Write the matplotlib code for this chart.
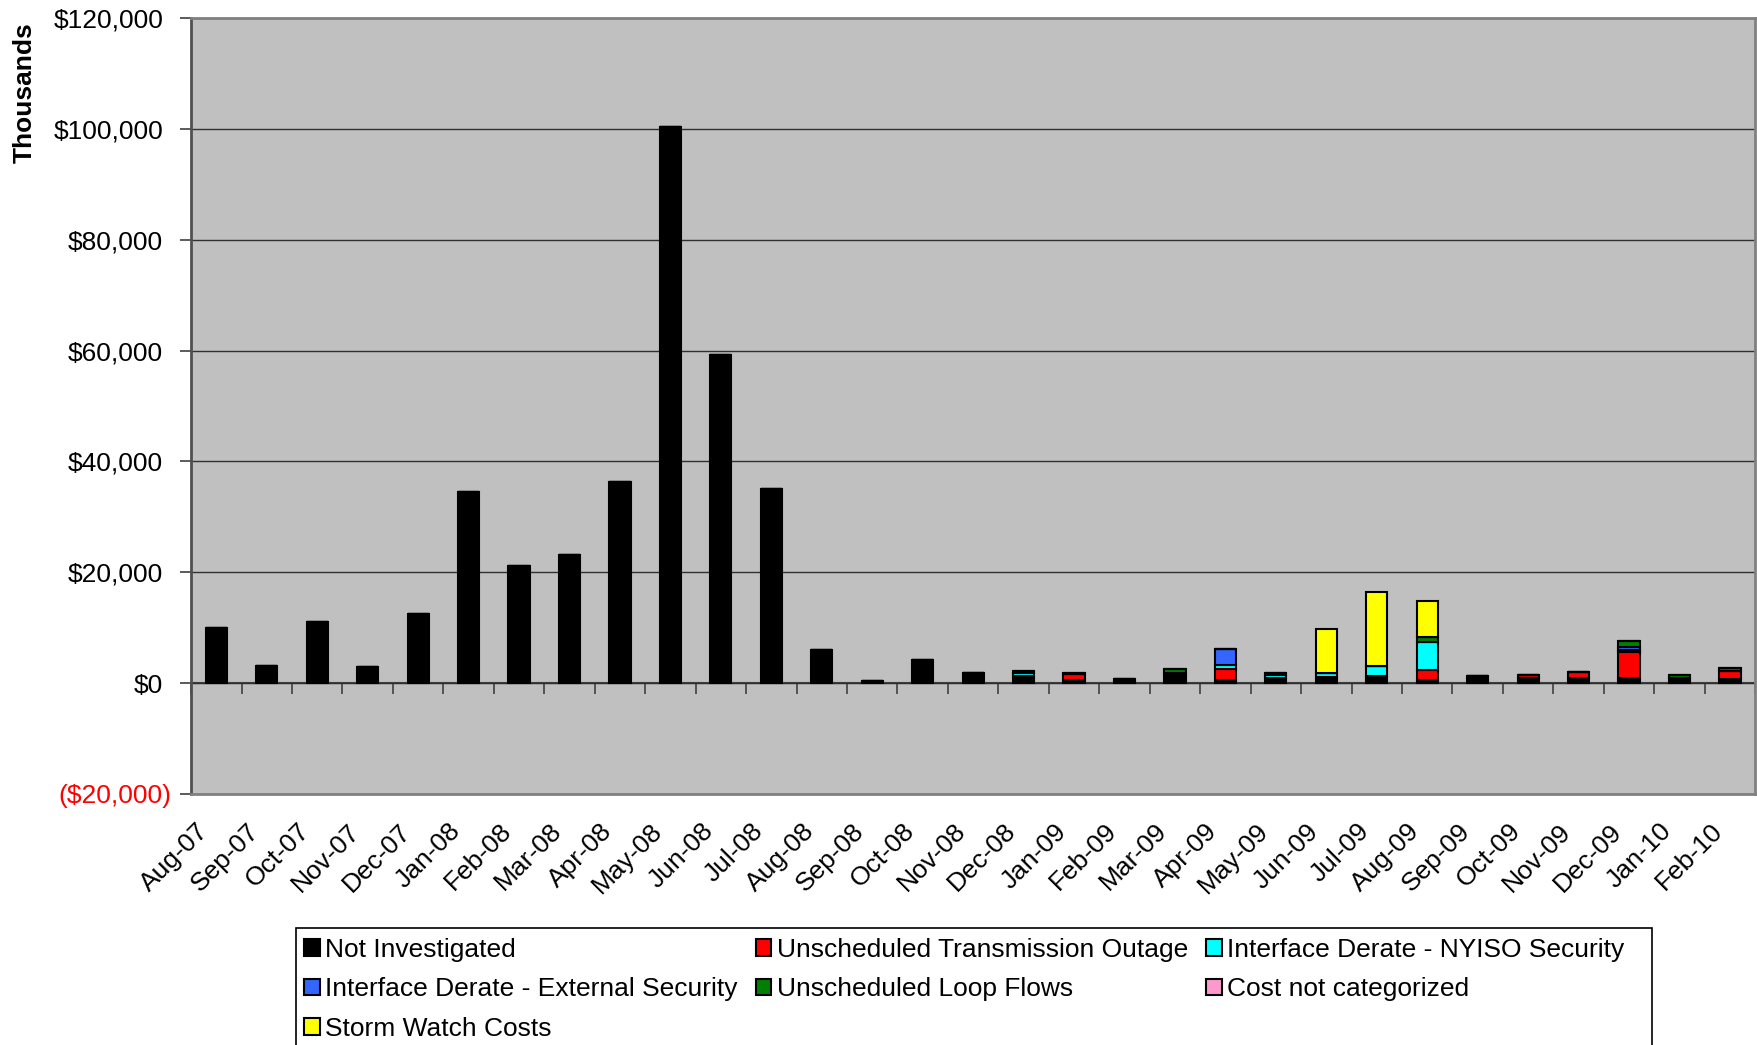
import numpy as np
import matplotlib
matplotlib.use("Agg")
import matplotlib.pyplot as plt
import matplotlib.transforms as mtransforms
from matplotlib.patches import Rectangle

plt.rcParams['font.family'] = ['Liberation Sans', 'DejaVu Sans']

months = ['Aug-07', 'Sep-07', 'Oct-07', 'Nov-07', 'Dec-07', 'Jan-08', 'Feb-08', 'Mar-08',
          'Apr-08', 'May-08', 'Jun-08', 'Jul-08', 'Aug-08', 'Sep-08', 'Oct-08', 'Nov-08',
          'Dec-08', 'Jan-09', 'Feb-09', 'Mar-09', 'Apr-09', 'May-09', 'Jun-09', 'Jul-09',
          'Aug-09', 'Sep-09', 'Oct-09', 'Nov-09', 'Dec-09', 'Jan-10', 'Feb-10']

# values in thousands of dollars
not_investigated = [10000, 3100, 11100, 3000, 12500, 34500, 21200, 23200, 36200, 100400, 59200, 35100,
                    5900, 300, 4200, 1800, 1300, 500, 400, 1900, 500, 1000, 1100, 1300,
                    500, 1300, 900, 900, 1000, 900, 700]
transmission_outage = [0, 0, 0, 0, 0, 0, 0, 0, 0, 0, 0, 0, 0, 0, 0, 0,
                       0, 1100, 400, 0, 2000, 0, 0, 0, 1900, 0, 500, 1100, 4600, 0, 1500]
nyiso_security = [0, 0, 0, 0, 0, 0, 0, 0, 0, 0, 0, 0, 0, 0, 0, 0,
                  500, 0, 0, 0, 800, 500, 700, 1800, 5000, 0, 0, 0, 400, 0, 0]
external_security = [0, 0, 0, 0, 0, 0, 0, 0, 0, 0, 0, 0, 0, 0, 0, 0,
                     0, 0, 0, 0, 2900, 300, 0, 0, 0, 0, 0, 0, 600, 0, 0]
loop_flows = [0, 0, 0, 0, 0, 0, 0, 0, 0, 0, 0, 0, 0, 0, 0, 0,
              400, 300, 0, 700, 0, 0, 0, 0, 900, 0, 0, 0, 1000, 500, 500]
not_categorized = [0] * 31
storm_watch = [0, 0, 0, 0, 0, 0, 0, 0, 0, 0, 0, 0, 0, 0, 0, 0,
               0, 0, 0, 0, 0, 0, 7900, 13300, 6500, 0, 0, 0, 0, 0, 0]

series = [
    ('Not Investigated', not_investigated, '#000000'),
    ('Unscheduled Transmission Outage', transmission_outage, '#FF0000'),
    ('Interface Derate - NYISO Security', nyiso_security, '#00FFFF'),
    ('Interface Derate - External Security', external_security, '#3366FF'),
    ('Unscheduled Loop Flows', loop_flows, '#008000'),
    ('Cost not categorized', not_categorized, '#FF99CC'),
    ('Storm Watch Costs', storm_watch, '#FFFF00'),
]

fig = plt.figure(figsize=(17.58, 10.45), dpi=100)
ax = fig.add_axes([0.1087, 0.2402, 0.8897, 0.7426])
ax.set_facecolor('#C0C0C0')

x = np.arange(len(months))
bottom = np.zeros(len(months))
handles = {}
for name, vals, col in series:
    vals = np.array(vals, dtype=float)
    b = ax.bar(x, vals, 0.42, bottom=bottom, color=col, edgecolor='black',
               linewidth=1.5, label=name, zorder=3)
    handles[name] = b
    bottom += vals

ax.set_xlim(-0.5, len(months) - 0.5)
ax.set_ylim(-20000, 120000)

yt = np.arange(-20000, 120001, 20000)
ax.set_yticks(yt)
labels = []
for v in yt:
    if v < 0:
        labels.append('(${:,})'.format(-v))
    else:
        labels.append('${:,}'.format(v))
ax.set_yticklabels(labels, fontsize=19)
ax.tick_params(axis='y', length=8, width=1.2, color='#404040', pad=12)
neg = ax.get_yticklabels()[0]
neg.set_color('red')
neg.set_transform(neg.get_transform() + mtransforms.ScaledTranslation(0.08, 0, fig.dpi_scale_trans))
ax.yaxis.grid(True, color='#303030', linewidth=1.0, zorder=1)
ax.set_axisbelow(True)

ax.set_xticks(x)
ax.set_xticklabels(months, fontsize=19, rotation=45, ha='right', rotation_mode='anchor')
ax.tick_params(axis='x', length=0, pad=18)
shift = mtransforms.ScaledTranslation(-0.2, 0, fig.dpi_scale_trans)
for lab in ax.get_xticklabels():
    lab.set_transform(lab.get_transform() + shift)

for s in ['top', 'bottom', 'right']:
    ax.spines[s].set_color('#808080')
    ax.spines[s].set_linewidth(2)
ax.spines['left'].set_color('#505050')
ax.spines['left'].set_linewidth(2)

# category axis crossing at $0 with ticks between the months
zero_ax = ax.secondary_xaxis(1 / 7)
zero_ax.set_xticks(np.arange(-0.5, len(months), 1.0))
zero_ax.set_xticklabels([])
zero_ax.tick_params(direction='out', length=8, width=1.2, color='#404040')
zero_ax.spines['bottom'].set_color('#404040')
zero_ax.spines['bottom'].set_linewidth(1.5)

fig.text(0.014, 0.979, 'Thousands', rotation=90, va='top', ha='center',
         fontsize=19, fontweight='bold')

order = ['Not Investigated', 'Interface Derate - External Security', 'Storm Watch Costs',
         'Unscheduled Transmission Outage', 'Unscheduled Loop Flows',
         'Interface Derate - NYISO Security', 'Cost not categorized']
leg = fig.legend([handles[n] for n in order], order, ncol=3, loc='upper left',
                 bbox_to_anchor=(0.1684, 0.110), fontsize=19, frameon=False,
                 handlelength=0.6, handleheight=0.6, handletextpad=0.2,
                 columnspacing=0.68, labelspacing=0.58, borderpad=0.3, borderaxespad=0)

# legend box runs past the bottom edge like the original
fig.patches.append(Rectangle((0.1684, -0.05), 0.9397 - 0.1684, 0.112 + 0.05,
                             transform=fig.transFigure, fill=False, edgecolor='black',
                             linewidth=1.2))

fig.savefig('out.png', dpi=100)
